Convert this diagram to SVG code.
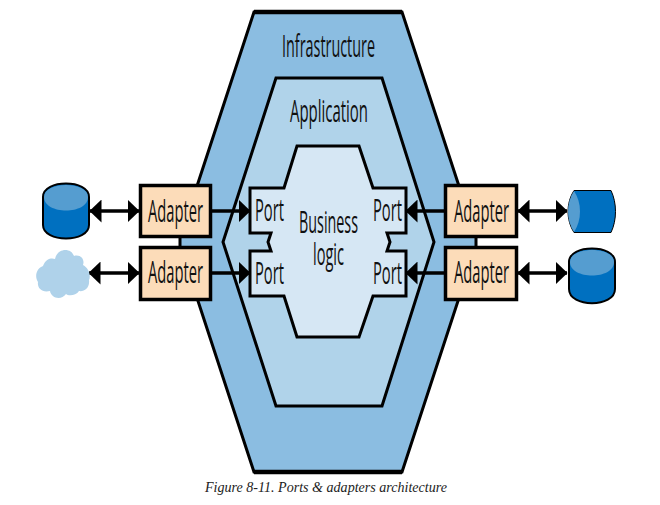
<svg xmlns="http://www.w3.org/2000/svg" width="660" height="505" viewBox="0 0 660 505">
<style>
.h{stroke:#000;stroke-width:3;stroke-linejoin:miter}
.t{font-family:"Open Sans","Noto Sans",sans-serif;font-size:31px;fill:#111;text-anchor:start}
.ad{fill:#fcdcb9;stroke:#000;stroke-width:3.5}
.c{stroke:#000;stroke-width:3.5;fill:none}
.dk{fill:#0070c0;stroke:#000;stroke-width:2}
.lt{fill:#559dd0}
.cap{font-family:"Liberation Serif",serif;font-style:italic;font-size:14px;fill:#222}
</style>
<defs>
<marker id="a" markerUnits="userSpaceOnUse" markerWidth="12" markerHeight="23" refX="11.5" refY="11.5" orient="auto-start-reverse"><path d="M0 0L12 11.5L0 23Z" fill="#000"/></marker>
</defs>
<g id="infrastructure">
<path class="h" fill="#8bbde1" d="M254 12H402L476 238V246L402 472H254L180 246V238Z"/>
<path d="M254 12H402M254 472H402" stroke="#000" stroke-width="4.5" fill="none"/>
<text class="t" transform="translate(282 57) scale(.48 1)" textLength="193.700" lengthAdjust="spacingAndGlyphs">Infrastructure</text>
</g>
<g id="application">
<path class="h" fill="#b0d3ea" d="M276 78H382L434 242L382 406H276L223 242Z"/>
<text class="t" transform="translate(290 122) scale(.48 1)" textLength="162.500" lengthAdjust="spacingAndGlyphs">Application</text>
</g>
<g id="business-logic">
<path class="h" fill="#d6e7f4" d="M297 146H359L373 188H406V233H387L390 242L387 251H406V296H373L359 337H297L284 296H250V251H271L268 242L271 233H250V188H284Z"/>
<text class="t" transform="translate(299 233) scale(.48 1)" textLength="123" lengthAdjust="spacingAndGlyphs">Business</text>
<text class="t" transform="translate(313 265) scale(.48 1)" textLength="64.600" lengthAdjust="spacingAndGlyphs">logic</text>
</g>
<g id="port-1"><text class="t" transform="translate(255 221) scale(.48 1)" textLength="60.400" lengthAdjust="spacingAndGlyphs">Port</text></g>
<g id="port-2"><text class="t" transform="translate(255 284) scale(.48 1)" textLength="60.400" lengthAdjust="spacingAndGlyphs">Port</text></g>
<g id="port-3"><text class="t" transform="translate(373 221) scale(.48 1)" textLength="60.400" lengthAdjust="spacingAndGlyphs">Port</text></g>
<g id="port-4"><text class="t" transform="translate(373 284) scale(.48 1)" textLength="60.400" lengthAdjust="spacingAndGlyphs">Port</text></g>
<g id="connectors">
<path class="c" d="M212 211H250" marker-end="url(#a)"/>
<path class="c" d="M212 273H250" marker-end="url(#a)"/>
<path class="c" d="M444 211H406" marker-end="url(#a)"/>
<path class="c" d="M444 273H406" marker-end="url(#a)"/>
<path class="c" d="M90 211H139" marker-start="url(#a)" marker-end="url(#a)"/>
<path class="c" d="M89 273H139" marker-start="url(#a)" marker-end="url(#a)"/>
<path class="c" d="M518 211H567" marker-start="url(#a)" marker-end="url(#a)"/>
<path class="c" d="M518 273H567" marker-start="url(#a)" marker-end="url(#a)"/>
</g>
<g id="adapter-1"><rect class="ad" x="140.500" y="185.500" width="70" height="51"/><text class="t" transform="translate(148 222) scale(.48 1)" textLength="114.600" lengthAdjust="spacingAndGlyphs">Adapter</text></g>
<g id="adapter-2"><rect class="ad" x="140.500" y="247.500" width="70" height="52"/><text class="t" transform="translate(148 283) scale(.48 1)" textLength="114.600" lengthAdjust="spacingAndGlyphs">Adapter</text></g>
<g id="adapter-3"><rect class="ad" x="445.500" y="185.500" width="71" height="51"/><text class="t" transform="translate(454 222) scale(.48 1)" textLength="114.600" lengthAdjust="spacingAndGlyphs">Adapter</text></g>
<g id="adapter-4"><rect class="ad" x="445.500" y="247.500" width="71" height="52"/><text class="t" transform="translate(454 283) scale(.48 1)" textLength="114.600" lengthAdjust="spacingAndGlyphs">Adapter</text></g>
<g id="db-left">
<path class="dk" d="M43 197C43 179 89 179 89 197V225C89 243 43 243 43 225Z"/>
<path class="lt" d="M44 197C44 181 88 181 88 197C88 215 44 215 44 197Z"/>
</g>
<g id="cloud-left">
<path fill="#afd2ea" d="M43 266C46 258 52 258 55 259C57 248 71 247 74 256C81 254 85 260 83 265C89 268 91 276 89 280C90 288 84 292 79 291C76 296 68 296 66 294C61 301 51 298 50 291C42 293 37 288 38 282C34 276 37 268 43 266Z"/>
</g>
<g id="db-right-top">
<path fill="#0070c0" stroke="#000" stroke-width="1" d="M574 190.500H611C617 203 617 220 611 232.500H574C566 220 566 203 574 190.500Z"/>
<path class="lt" d="M574 191C566 203 566 220 574 232C582 220 582 203 574 191Z"/>
</g>
<g id="db-right-bottom">
<path class="dk" d="M569 262C569 244 615 244 615 262V289C615 308 569 308 569 289Z"/>
<path class="lt" d="M570 262C570 246 614 246 614 262C614 280 570 280 570 262Z"/>
</g>
<g id="caption"><text class="cap" x="205" y="492" textLength="242" lengthAdjust="spacingAndGlyphs">Figure 8-11. Ports &amp; adapters architecture</text></g>
</svg>
